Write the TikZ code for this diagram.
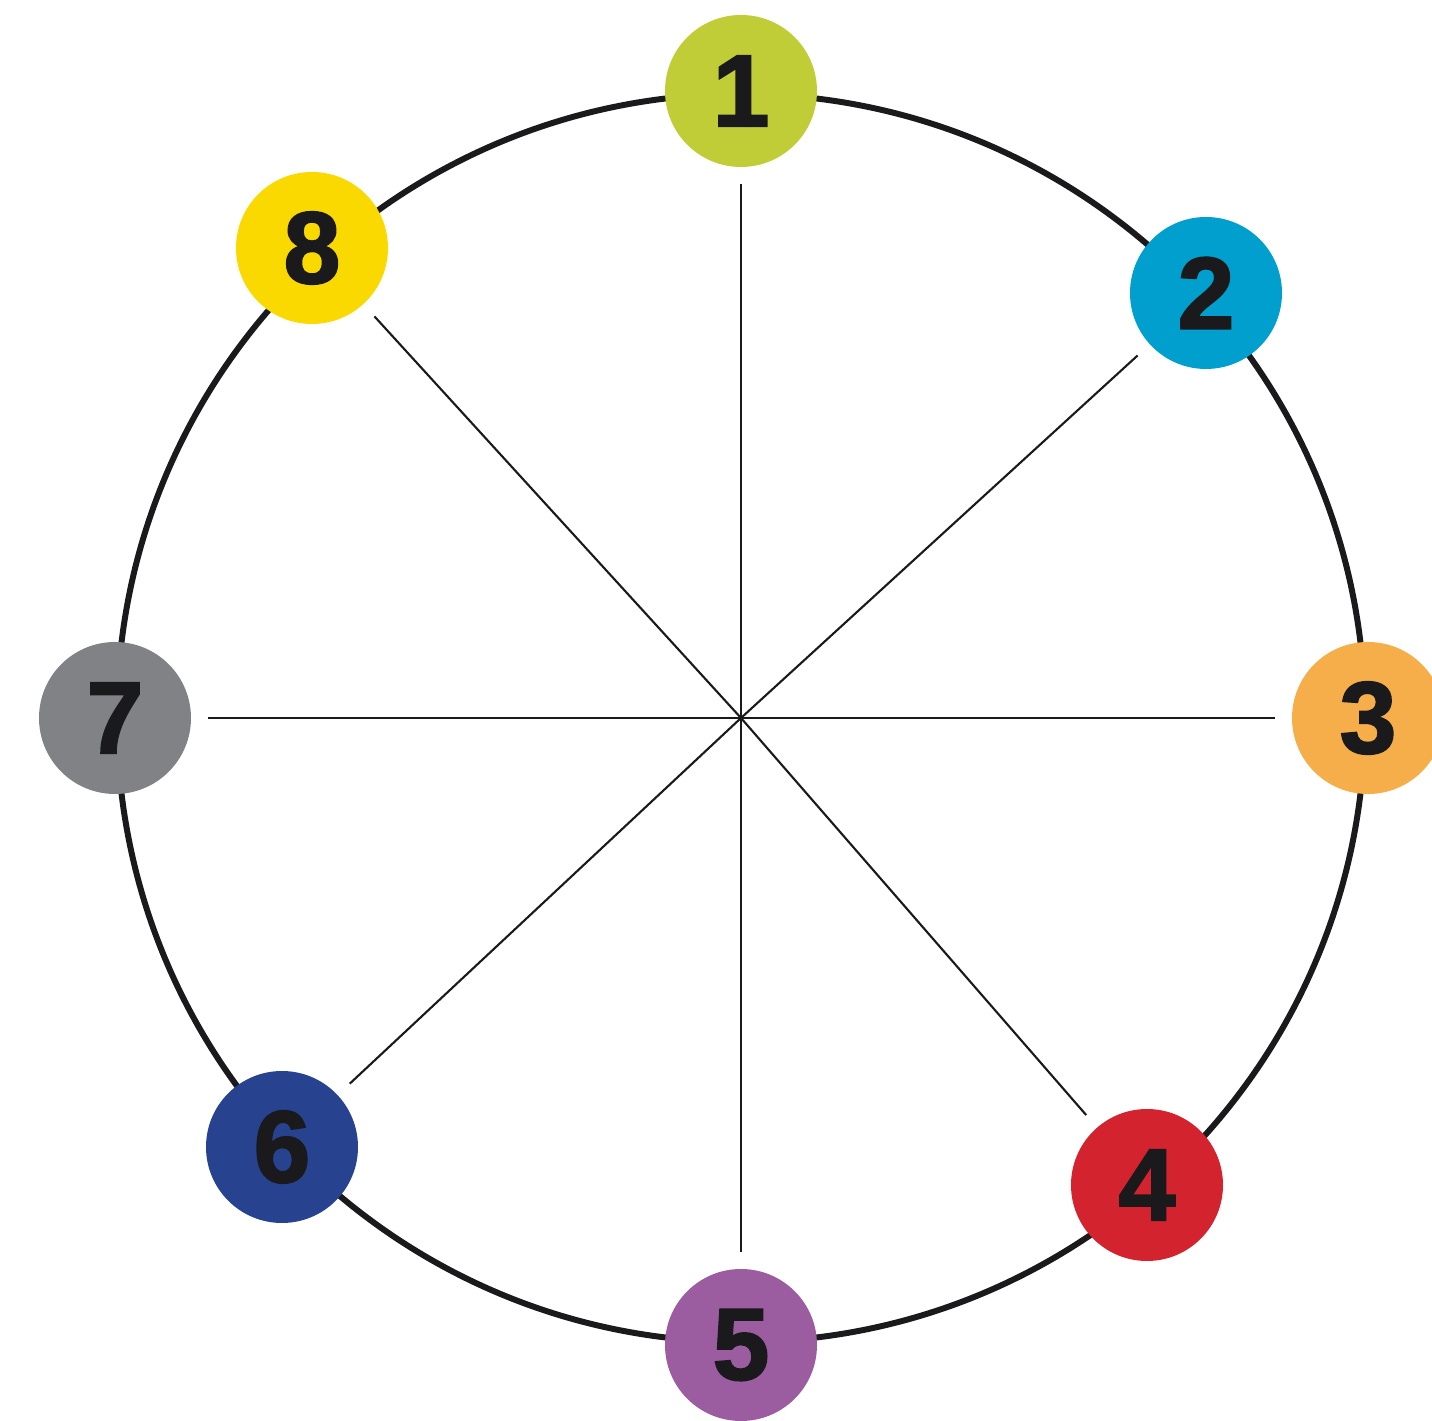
\documentclass[tikz,border=0pt]{standalone}
\usepackage{fontspec}
\newfontfamily\digitfont{Liberation Sans}[BoldFeatures={FakeBold=2}]
\definecolor{inkblack}{HTML}{1A1A1C}
\definecolor{limegreen}{HTML}{C1CD36}
\definecolor{skyblue}{HTML}{009FCD}
\definecolor{lightorange}{HTML}{F6AE4A}
\definecolor{signalred}{HTML}{D2232F}
\definecolor{lilac}{HTML}{9C5CA0}
\definecolor{navyblue}{HTML}{27428F}
\definecolor{midgray}{HTML}{808285}
\definecolor{sunyellow}{HTML}{F9D900}
\tikzset{
    dot/.style={circle, fill=#1, minimum size=1.52cm, inner sep=0pt,
        font=\digitfont\bfseries\fontsize{29}{29}\selectfont, text=inkblack},
    spoke/.style={inkblack, line width=0.6pt, shorten >=0.16cm}
}
\begin{document}
\begin{tikzpicture}
    \useasboundingbox (-7.41,-7.03) rectangle (6.91,7.18);

    \coordinate (O) at (0,0);
    \draw[inkblack, line width=1.7pt] (O) circle (6.24);

    \node[dot=limegreen]   (n1) at (0,6.27)      {1};
    \node[dot=skyblue]     (n2) at (4.65,4.25)   {2};
    \node[dot=lightorange] (n3) at (6.27,0)      {3};
    \node[dot=signalred]   (n4) at (4.06,-4.67)  {4};
    \node[dot=lilac]       (n5) at (0,-6.27)     {5};
    \node[dot=navyblue]    (n6) at (-4.59,-4.29) {6};
    \node[dot=midgray]     (n7) at (-6.26,0)     {7};
    \node[dot=sunyellow]   (n8) at (-4.29,4.70)  {8};

    \foreach \i in {1,...,8}
        \draw[spoke] (O) -- (n\i);
\end{tikzpicture}
\end{document}
